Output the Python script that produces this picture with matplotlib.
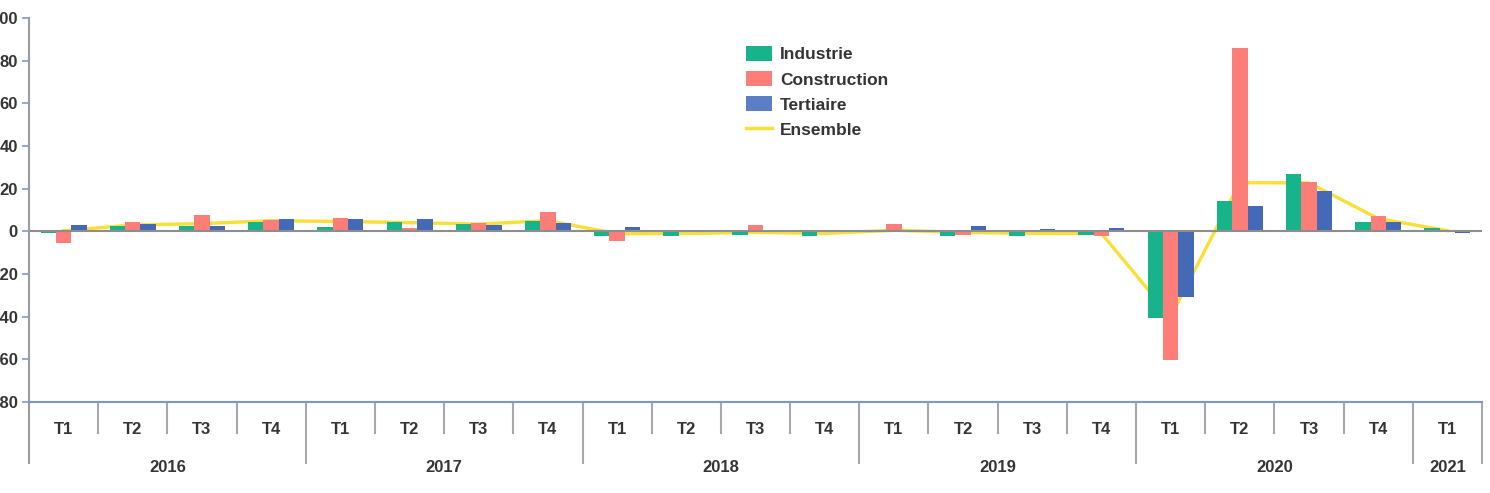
import matplotlib
matplotlib.use('Agg')
import matplotlib.pyplot as plt
from matplotlib.patches import Patch
from matplotlib.lines import Line2D
import matplotlib.transforms as mtransforms
import numpy as np

plt.rcParams['font.family'] = ['Liberation Sans', 'DejaVu Sans']

# ---- data ----
quarters = ['T1', 'T2', 'T3', 'T4'] * 5 + ['T1']
years = ['2016', '2017', '2018', '2019', '2020', '2021']
year_counts = [4, 4, 4, 4, 4, 1]
industrie = [-1.0, 2.3, 2.3, 4.4, 1.8, 4.4, 3.4, 4.7, -2.0, -2.3, -1.9, -2.0,
             0.0, -2.3, -2.2, -1.9, -40.5, 14.4, 27.0, 4.4, 1.6]
construction = [-5.3, 4.5, 7.8, 5.2, 6.2, 1.7, 4.1, 9.1, -4.7, 0.0, 3.1, 0.0,
                3.6, -1.9, 0.0, -2.3, -60.5, 86.0, 23.3, 7.0, 0.0]
tertiaire = [3.1, 3.3, 2.5, 6.0, 5.6, 6.0, 3.0, 3.9, 2.0, -0.5, 0.3, 0.0,
             0.0, 2.3, 1.1, 1.7, -30.6, 12.0, 19.1, 4.4, -0.7]
ensemble = [0.3, 3.0, 3.6, 5.0, 4.6, 4.1, 3.4, 5.0, -1.1, -1.0, -0.5, -1.0,
            0.5, -0.5, -1.0, -1.0, -40.0, 22.8, 22.7, 6.0, 0.3]
yticks = [-80, -60, -40, -20, 0, 20, 40, 60, 80, 100]
series_names = ['Industrie', 'Construction', 'Tertiaire', 'Ensemble']

# ---- style ----
GREEN = '#17b38a'
RED = '#fd7d79'
BLUE = '#4369b7'
BLUE_LEG = '#5a7fc7'
YELLOW = '#f9df36'
TXT = '#353535'
W, H = 1490, 493
DPI = 100

fig = plt.figure(figsize=(W / DPI, H / DPI), dpi=DPI)
ax_left, ax_right, ax_top, ax_bot = 29, 1482, 18, 402
ax_h = ax_bot - ax_top
ax = fig.add_axes([ax_left / W, 1 - ax_bot / H, (ax_right - ax_left) / W, ax_h / H])

n = len(quarters)
x = np.arange(n)
bw = 0.222
ax.bar(x - bw, industrie, bw, color=GREEN, zorder=3, linewidth=0)
ax.bar(x, construction, bw, color=RED, zorder=3, linewidth=0)
ax.bar(x + bw, tertiaire, bw, color=BLUE, zorder=3, linewidth=0)
ax.plot(x, ensemble, color=YELLOW, lw=2.4, zorder=2, solid_joinstyle='round')
ax.axhline(0, color='#8d8d8d', lw=1.5, zorder=4)

ax.set_xlim(-0.5, n - 0.5)
ax.set_ylim(-80, 100)
ax.set_yticks(yticks)
ax.set_yticklabels([str(v) for v in yticks])
ax.tick_params(axis='y', length=5, color='#7f9ad0', width=1.2, pad=3,
               labelsize=12, labelcolor=TXT)
for lab in ax.get_yticklabels():
    lab.set_fontweight('bold')
ax.set_xticks([])

for s in ['top', 'right', 'left']:
    ax.spines[s].set_visible(False)
ax.spines['bottom'].set_color('#7b98d4')
ax.spines['bottom'].set_linewidth(1.5)
ax.spines['bottom'].set_zorder(5)

xt = ax.get_xaxis_transform()

def px_below(p):
    return -p / ax_h

# left axis line extending below the plot
ax.add_line(Line2D([-0.5, -0.5], [1.0, px_below(61)], transform=xt,
                   color='#9c9c9c', lw=1.5, clip_on=False, zorder=5))

# category separators
bounds_year = np.cumsum([0] + year_counts) - 0.5
for b in np.arange(n + 1) - 0.5:
    if b == -0.5:
        continue
    long = any(abs(b - yb) < 1e-9 for yb in bounds_year)
    ax.add_line(Line2D([b, b], [0, px_below(61 if long else 31)], transform=xt,
                       color='#a8a8a8', lw=1.5, clip_on=False))

def off(p):
    return mtransforms.offset_copy(xt, fig=fig, y=-p * 72 / DPI, units='points')

for xi, q in zip(x, quarters):
    ax.text(xi, 0, q, transform=off(31.5), ha='center', va='baseline',
            fontsize=12, fontweight='bold', color=TXT)

start = 0
for yr, c in zip(years, year_counts):
    cx = start + (c - 1) / 2
    ax.text(cx, 0, yr, transform=off(70), ha='center', va='baseline',
            fontsize=12, fontweight='bold', color=TXT)
    start += c

handles = [Patch(facecolor=GREEN, edgecolor='none'),
           Patch(facecolor=RED, edgecolor='none'),
           Patch(facecolor=BLUE_LEG, edgecolor='none'),
           Line2D([], [], color=YELLOW, lw=2.5)]
leg = fig.legend(handles, series_names, loc='upper left',
                 bbox_to_anchor=(746 / W, 1 - 46 / H), frameon=False,
                 borderpad=0, borderaxespad=0, handlelength=1.5, handleheight=0.95,
                 handletextpad=0.45, labelspacing=0.5,
                 prop={'weight': 'bold', 'size': 12.5})
for t in leg.get_texts():
    t.set_color(TXT)

fig.savefig('out.png', dpi=DPI)
